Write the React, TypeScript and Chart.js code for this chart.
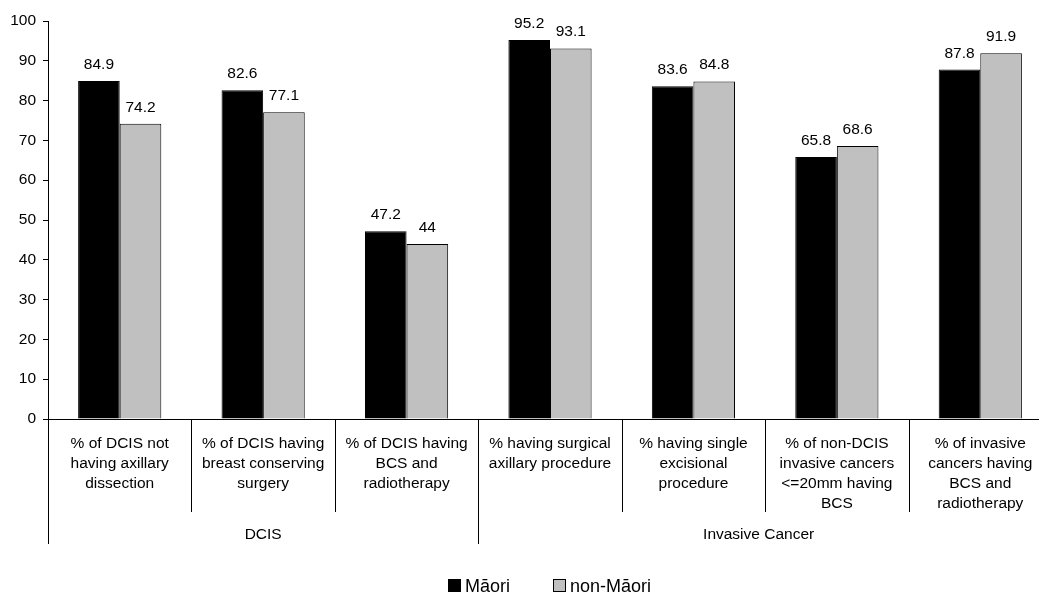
import React, { useEffect, useRef } from "react";
import { Chart, registerables } from "chart.js";

Chart.register(...registerables);

// Category captions (one entry per bar pair, split into display lines)
const categoryLines: string[][] = [
  ["% of DCIS not", "having axillary", "dissection"],
  ["% of DCIS having", "breast conserving", "surgery"],
  ["% of DCIS having", "BCS and", "radiotherapy"],
  ["% having surgical", "axillary procedure"],
  ["% having single", "excisional", "procedure"],
  ["% of non-DCIS", "invasive cancers", "<=20mm having", "BCS"],
  ["% of invasive", "cancers having", "BCS and", "radiotherapy"],
];

// Outer grouping of the categories
const groupLabels: string[] = ["DCIS", "Invasive Cancer"];
const groupSizes: number[] = [3, 4];

// Series
const seriesNames: string[] = ["M\u0101ori", "non-M\u0101ori"];
const maoriValues: number[] = [84.9, 82.6, 47.2, 95.2, 83.6, 65.8, 87.8];
const nonMaoriValues: number[] = [74.2, 77.1, 44, 93.1, 84.8, 68.6, 91.9];

// Value axis
const yMin = 0;
const yMax = 100;
const yStep = 10;

const FONT = "'Liberation Sans', Arial, Helvetica, sans-serif";
const BAR_COLORS = ["#000000", "#C0C0C0"];

// The plot runs slightly past the visible frame on the right
const VIEW_W = 1039;
const VIEW_H = 594;
const CANVAS_W = 1052;

const overlayPlugin = {
  id: "categoryOverlay",
  afterDraw(chart: any) {
    const ctx = chart.ctx as CanvasRenderingContext2D;
    const area = chart.chartArea;
    const n = categoryLines.length;
    const catW = (area.right - area.left) / n;
    const baseY = chart.scales.y.getPixelForValue(0);

    ctx.save();
    ctx.strokeStyle = "#000";
    ctx.lineWidth = 1;

    // category axis baseline
    ctx.beginPath();
    ctx.moveTo(area.left, Math.round(baseY) + 0.5);
    ctx.lineTo(area.right, Math.round(baseY) + 0.5);
    ctx.stroke();

    // separators between categories
    const catTickBottom = baseY + 93;
    const groupTickBottom = baseY + 125;
    for (let i = 1; i < n; i++) {
      const x = Math.round(area.left + i * catW) + 0.5;
      ctx.beginPath();
      ctx.moveTo(x, baseY);
      ctx.lineTo(x, catTickBottom);
      ctx.stroke();
    }
    // separators between groups (left edge and inner boundaries)
    let acc = 0;
    for (let g = 0; g < groupSizes.length; g++) {
      const x = Math.round(area.left + acc * catW) + 0.5;
      ctx.beginPath();
      ctx.moveTo(x, baseY);
      ctx.lineTo(x, groupTickBottom);
      ctx.stroke();
      acc += groupSizes[g];
    }

    // category captions
    ctx.fillStyle = "#000";
    ctx.font = `15.5px ${FONT}`;
    ctx.textAlign = "center";
    ctx.textBaseline = "alphabetic";
    for (let i = 0; i < n; i++) {
      const cx = area.left + (i + 0.5) * catW;
      categoryLines[i].forEach((line, k) => {
        ctx.fillText(line, cx, baseY + 28.5 + k * 20);
      });
    }

    // group captions, centred on the visible part of each group
    acc = 0;
    for (let g = 0; g < groupLabels.length; g++) {
      const x0 = area.left + acc * catW;
      const x1 = Math.min(area.left + (acc + groupSizes[g]) * catW, VIEW_W);
      ctx.fillText(groupLabels[g], (x0 + x1) / 2, baseY + 119.5);
      acc += groupSizes[g];
    }

    // value labels above bars
    chart.data.datasets.forEach((ds: any, di: number) => {
      const meta = chart.getDatasetMeta(di);
      meta.data.forEach((bar: any, j: number) => {
        ctx.fillText(String(ds.data[j]), bar.x, bar.y - 12);
      });
    });

    // legend
    ctx.font = `18px ${FONT}`;
    ctx.textAlign = "left";
    const legendY = 579;
    const legendX = [448, 553];
    seriesNames.forEach((name, i) => {
      const x = legendX[i];
      ctx.fillStyle = BAR_COLORS[i];
      ctx.fillRect(x, legendY, 13, 13);
      ctx.strokeStyle = "#000";
      ctx.strokeRect(x + 0.5, legendY + 0.5, 12, 12);
      ctx.fillStyle = "#000";
      ctx.fillText(name, x + 17, legendY + 12.5);
    });

    ctx.restore();
  },
};

export default function App() {
  const canvasRef = useRef<HTMLCanvasElement | null>(null);

  useEffect(() => {
    const canvas = canvasRef.current;
    if (!canvas) return;
    const chart = new Chart(canvas, {
      type: "bar",
      data: {
        labels: categoryLines.map((l) => l.join(" ")),
        datasets: [
          {
            label: seriesNames[0],
            data: maoriValues,
            backgroundColor: BAR_COLORS[0],
            borderColor: "#000",
            borderWidth: 1,
            categoryPercentage: 0.58,
            barPercentage: 1,
          },
          {
            label: seriesNames[1],
            data: nonMaoriValues,
            backgroundColor: BAR_COLORS[1],
            borderColor: "#000",
            borderWidth: 1,
            categoryPercentage: 0.58,
            barPercentage: 1,
          },
        ],
      },
      options: {
        responsive: false,
        animation: false,
        layout: { padding: { top: 21, right: 0, bottom: 175, left: 0 } },
        plugins: {
          legend: { display: false },
          tooltip: { enabled: false },
        },
        scales: {
          x: { display: false, offset: true },
          y: {
            min: yMin,
            max: yMax,
            afterFit: (scale: any) => {
              scale.width = 48;
            },
            ticks: {
              stepSize: yStep,
              color: "#000",
              padding: 7,
              font: { family: FONT, size: 15.5 },
            },
            grid: {
              drawOnChartArea: false,
              drawTicks: true,
              tickLength: 5,
              color: "#000",
            },
            border: { color: "#000", width: 1 },
          },
        },
      },
      plugins: [overlayPlugin],
    });
    return () => chart.destroy();
  }, []);

  return (
    <div
      style={{
        position: "fixed",
        left: 0,
        top: 0,
        width: VIEW_W,
        height: VIEW_H,
        overflow: "hidden",
        background: "#fff",
      }}
    >
      <canvas ref={canvasRef} width={CANVAS_W} height={VIEW_H} />
    </div>
  );
}
